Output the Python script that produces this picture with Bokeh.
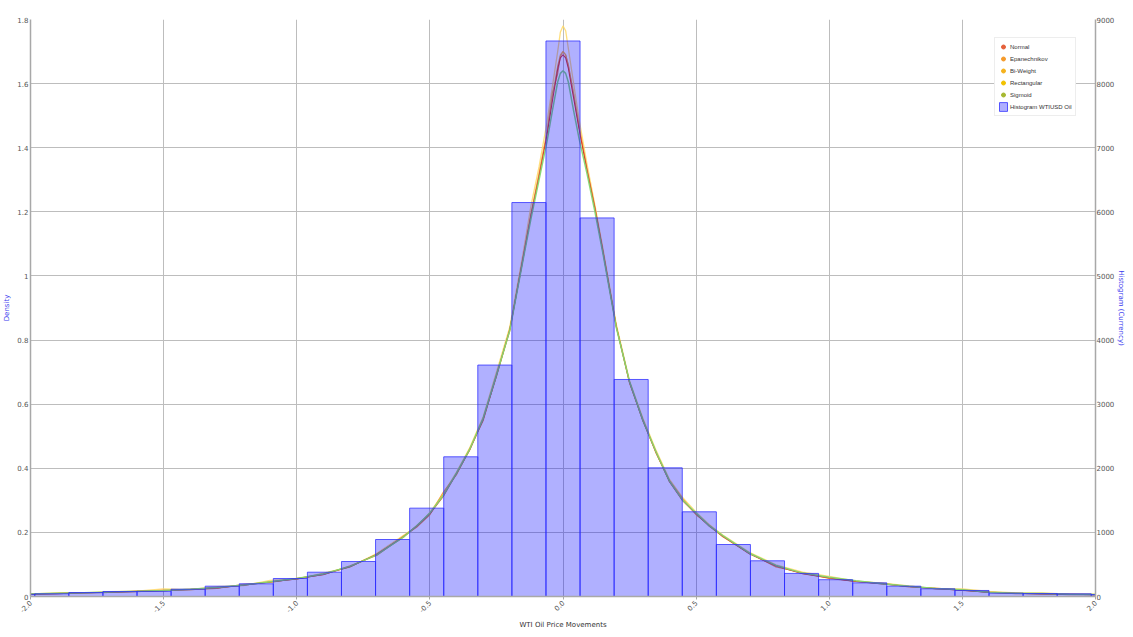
import math
import numpy as np
from bokeh.plotting import figure
from bokeh.models import Range1d, LinearAxis, FixedTicker, Legend, LegendItem
from bokeh.embed import file_html
from bokeh.resources import INLINE

# ---------------- data ----------------
x_ticks = [-2.0, -1.5, -1.0, -0.5, 0.0, 0.5, 1.0, 1.5, 2.0]
x_tick_labels = ["-2.0", "-1.5", "-1.0", "-0.5", "0.0", "0.5", "1.0", "1.5", "2.0"]
density_ticks = [0, 0.2, 0.4, 0.6, 0.8, 1, 1.2, 1.4, 1.6, 1.8]
density_tick_labels = ["0", "0.2", "0.4", "0.6", "0.8", "1", "1.2", "1.4", "1.6", "1.8"]
hist_ticks = [0, 1000, 2000, 3000, 4000, 5000, 6000, 7000, 8000, 9000]

bin_width = 0.128
bin_index = list(range(-16, 17))
bin_counts = [35, 42, 62, 78, 80, 114, 161, 198, 281, 379, 546, 889, 1378, 2179,
              3610, 6145, 8665, 5905, 3385, 2007, 1321, 811, 557, 360, 262, 213,
              161, 120, 94, 52, 47, 42, 30]

kde_x = [-2.0, -1.9, -1.8, -1.7, -1.6, -1.5, -1.4, -1.3, -1.2, -1.1, -1.0, -0.9, -0.8, -0.7, -0.6,
         -0.55, -0.5, -0.45, -0.4, -0.35, -0.3, -0.25, -0.2, -0.15, -0.12, -0.09, -0.06, -0.04, -0.02, -0.01,
         0.0, 0.01, 0.02, 0.04, 0.06, 0.09, 0.12, 0.15, 0.2, 0.25, 0.3, 0.35, 0.4, 0.45, 0.5, 0.55,
         0.6, 0.7, 0.8, 0.9, 1.0, 1.1, 1.2, 1.3, 1.4, 1.5, 1.6, 1.7, 1.8, 1.9, 2.0]

kde_sigmoid = [0.008, 0.010, 0.012, 0.014, 0.016, 0.019, 0.023, 0.028, 0.036, 0.046, 0.056, 0.070, 0.094, 0.130, 0.185,
               0.220, 0.260, 0.315, 0.385, 0.460, 0.555, 0.690, 0.830, 1.050, 1.180, 1.300, 1.420, 1.515, 1.605, 1.632,
               1.640, 1.632, 1.605, 1.515, 1.430, 1.320, 1.200, 1.070, 0.840, 0.670, 0.550, 0.450, 0.360, 0.300, 0.260, 0.220,
               0.190, 0.135, 0.097, 0.073, 0.060, 0.049, 0.040, 0.032, 0.025, 0.021, 0.013, 0.010, 0.009, 0.007, 0.006]

kde_normal = [0.007, 0.009, 0.012, 0.013, 0.016, 0.018, 0.022, 0.027, 0.035, 0.045, 0.055, 0.069, 0.093, 0.131, 0.186,
              0.219, 0.258, 0.312, 0.384, 0.458, 0.552, 0.688, 0.832, 1.055, 1.190, 1.310, 1.440, 1.545, 1.645, 1.680,
              1.690, 1.680, 1.648, 1.555, 1.460, 1.330, 1.210, 1.075, 0.842, 0.668, 0.548, 0.448, 0.358, 0.298, 0.258, 0.219,
              0.188, 0.133, 0.095, 0.071, 0.058, 0.047, 0.039, 0.031, 0.024, 0.020, 0.013, 0.010, 0.008, 0.007, 0.006]

kde_epanechnikov = [0.007, 0.010, 0.011, 0.014, 0.015, 0.020, 0.021, 0.025, 0.038, 0.044, 0.057, 0.068, 0.096, 0.128, 0.188,
                    0.216, 0.255, 0.325, 0.380, 0.462, 0.548, 0.692, 0.828, 1.060, 1.195, 1.320, 1.450, 1.570, 1.630, 1.685,
                    1.700, 1.690, 1.660, 1.570, 1.470, 1.335, 1.215, 1.080, 0.845, 0.665, 0.552, 0.446, 0.362, 0.305, 0.255, 0.222,
                    0.186, 0.136, 0.092, 0.074, 0.056, 0.047, 0.041, 0.030, 0.026, 0.019, 0.014, 0.009, 0.009, 0.006, 0.006]

kde_biweight = [0.008, 0.009, 0.012, 0.013, 0.017, 0.018, 0.023, 0.027, 0.036, 0.046, 0.055, 0.071, 0.093, 0.132, 0.184,
                0.221, 0.259, 0.318, 0.383, 0.459, 0.556, 0.686, 0.835, 1.052, 1.192, 1.315, 1.445, 1.560, 1.655, 1.690,
                1.700, 1.690, 1.655, 1.565, 1.465, 1.330, 1.212, 1.078, 0.843, 0.669, 0.549, 0.450, 0.359, 0.301, 0.257, 0.221,
                0.189, 0.134, 0.096, 0.072, 0.059, 0.048, 0.040, 0.031, 0.025, 0.021, 0.013, 0.010, 0.008, 0.007, 0.006]

kde_rectangular = [0.008, 0.011, 0.011, 0.015, 0.017, 0.024, 0.021, 0.031, 0.034, 0.050, 0.054, 0.073, 0.092, 0.134, 0.190,
                   0.218, 0.262, 0.320, 0.388, 0.465, 0.560, 0.700, 0.840, 1.070, 1.220, 1.340, 1.480, 1.590, 1.700, 1.760,
                   1.780, 1.765, 1.710, 1.600, 1.490, 1.350, 1.220, 1.085, 0.850, 0.672, 0.556, 0.455, 0.365, 0.308, 0.263, 0.224,
                   0.192, 0.138, 0.099, 0.076, 0.063, 0.048, 0.042, 0.033, 0.024, 0.024, 0.016, 0.011, 0.011, 0.007, 0.007]

series_names = ["Normal", "Epanechnikov", "Bi-Weight", "Rectangular", "Sigmoid"]
series_values = [kde_normal, kde_epanechnikov, kde_biweight, kde_rectangular, kde_sigmoid]
line_colors = ["#d8302a", "#f39a3c", "#f6b43a", "#ffd966", "#84d870"]
line_widths = [1.1, 1.1, 1.1, 1.3, 1.5]
marker_colors = ["#e5603a", "#f59a2a", "#f5b21c", "#f2c200", "#a6b830"]
hist_label = "Histogram WTIUSD Oil"

# ---------------- figure ----------------
FONT = "DejaVu Sans"
p = figure(width=1128, height=632, x_range=Range1d(-2.0, 2.0), y_range=Range1d(0, 1.8),
           output_backend="svg", toolbar_location=None,
           min_border_top=19, min_border_left=0, min_border_right=0, min_border_bottom=0,
           background_fill_color="white", border_fill_color="white", outline_line_color=None)

p.extra_y_ranges = {"hist": Range1d(0, 9000)}

# grids
p.xgrid.ticker = FixedTicker(ticks=x_ticks)
p.ygrid.ticker = FixedTicker(ticks=density_ticks)
for g in (p.xgrid, p.ygrid):
    g.grid_line_color = "#bdbdbd"
    g.grid_line_width = 1

# x axis
xa = p.xaxis[0]
xa.ticker = FixedTicker(ticks=x_ticks)
xa.major_label_overrides = {t: l for t, l in zip(x_ticks, x_tick_labels)}
xa.major_label_orientation = math.pi / 4
xa.axis_label = "WTI Oil Price Movements"

# left axis
ya = p.yaxis[0]
ya.ticker = FixedTicker(ticks=density_ticks)
ya.major_label_overrides = {t: l for t, l in zip(density_ticks, density_tick_labels)}
ya.axis_label = "Density"

# right axis
ra = LinearAxis(y_range_name="hist", ticker=FixedTicker(ticks=hist_ticks),
                axis_label="Histogram (Currency)")
p.add_layout(ra, "right")

for ax in (xa, ya, ra):
    ax.axis_line_color = "#a8a8a8"
    ax.axis_line_width = 1.5
    ax.major_tick_in = 0
    ax.major_tick_out = 0
    ax.minor_tick_in = 0
    ax.minor_tick_out = 0
    ax.major_label_text_font = FONT
    ax.major_label_text_font_size = "7px"
    ax.major_label_text_color = "#555555"
    ax.major_label_standoff = 2
    ax.axis_label_text_font = FONT
    ax.axis_label_text_font_size = "7px"
    ax.axis_label_text_font_style = "normal"
    ax.axis_label_standoff = 3

xa.major_tick_out = 3
xa.major_tick_line_color = "#a8a8a8"
xa.axis_label_text_color = "#333333"
xa.axis_label_standoff = 3
ya.axis_label_text_color = "#3a3aee"
ra.axis_label_text_color = "#3a3aee"
ra.axis_label_standoff = 0
ra.major_label_standoff = 1

# KDE lines (under histogram)
draw_order = [3, 1, 2, 0, 4]
for i in draw_order:
    p.line(kde_x, series_values[i], line_color=line_colors[i],
           line_width=line_widths[i], line_alpha=0.95 if i != 3 else 0.85)

# histogram bars
centers = np.array(bin_index) * bin_width
hist = p.quad(left=centers - bin_width / 2, right=centers + bin_width / 2,
              bottom=0, top=bin_counts, y_range_name="hist",
              fill_color="#0000ff", fill_alpha=0.31,
              line_color="#2a2aff", line_alpha=0.75, line_width=1)

# legend markers (single off-screen point so the legend can draw a circle)
items = []
for i, name in enumerate(series_names):
    m = p.scatter(x=[-10], y=[-10], marker="circle", size=5,
                  fill_color=marker_colors[i], line_color=marker_colors[i])
    items.append(LegendItem(label=name, renderers=[m], index=0))
items.append(LegendItem(label=hist_label, renderers=[hist], index=0))

legend = Legend(items=items, location=(964, 480),
                label_text_font="Liberation Sans", label_text_font_size="6px",
                label_text_color="#333333",
                glyph_width=10, glyph_height=11, label_height=11, spacing=1,
                padding=3, margin=0, label_standoff=2,
                background_fill_color="white", background_fill_alpha=1.0,
                border_line_color="#dcdcdc", border_line_width=1)
p.add_layout(legend, "center")

open("out.html", "w").write(file_html(p, INLINE))
